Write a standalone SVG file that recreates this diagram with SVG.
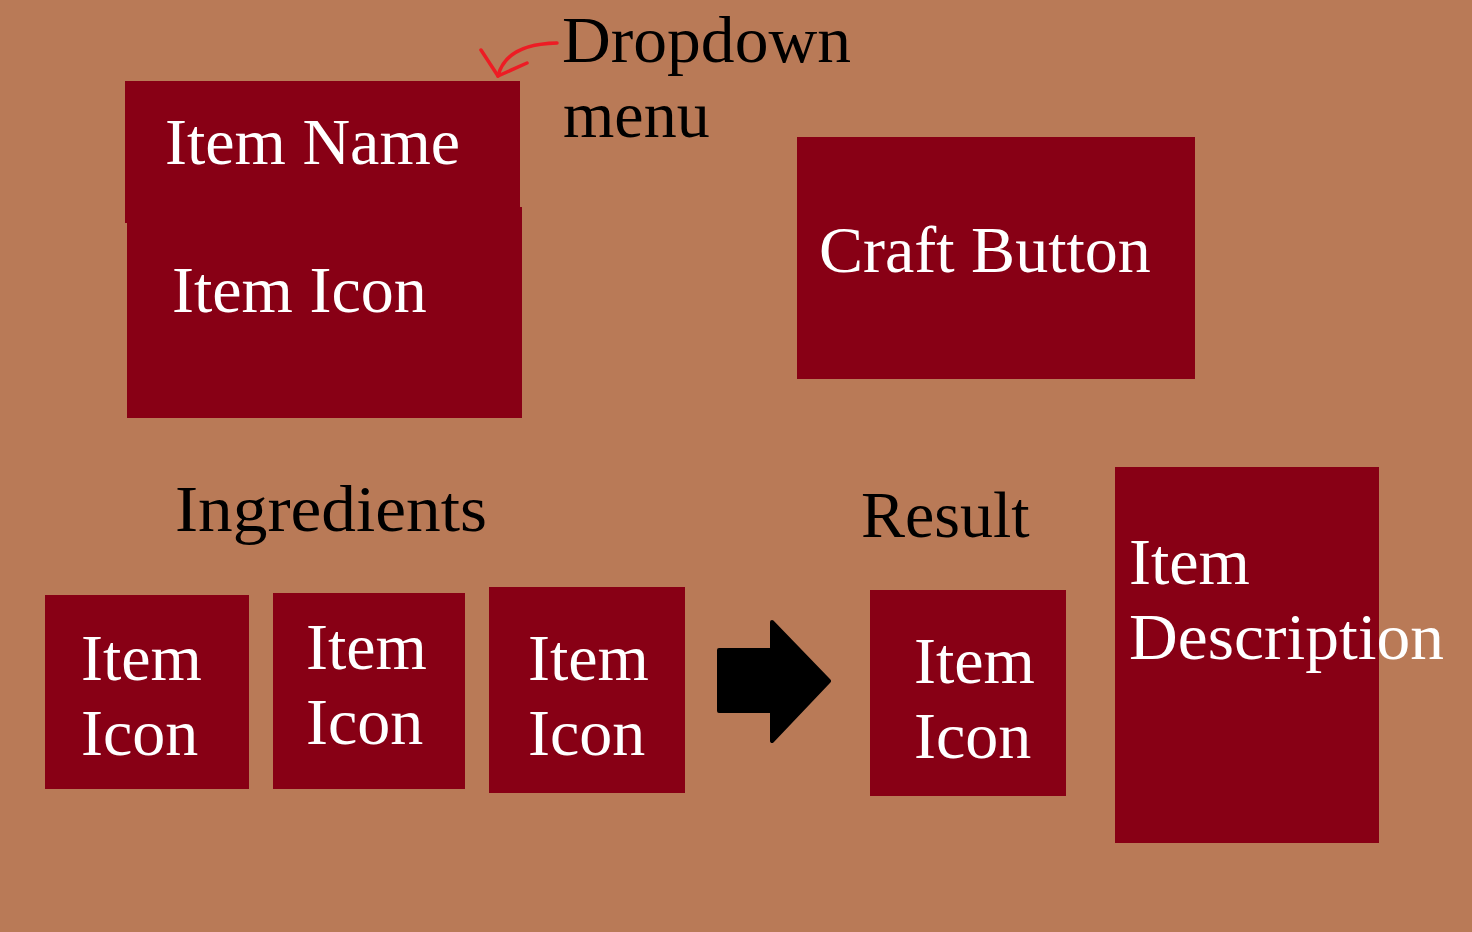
<svg xmlns="http://www.w3.org/2000/svg" width="1472" height="932" viewBox="0 0 1472 932">
<style>
.box{fill:#880015}
.t{font-family:"Liberation Serif","Times New Roman",serif;font-size:66px}
.w{fill:#ffffff}
.k{fill:#000000}
</style>
<rect x="0" y="0" width="1472" height="932" fill="#b97a57"/>
<g id="item-name">
<rect class="box" x="125" y="81" width="395" height="142"/>
<text class="t w" x="165" y="164">Item Name</text>
</g>
<g id="item-icon-main">
<rect class="box" x="127" y="207" width="395" height="211"/>
<text class="t w" x="172" y="312">Item Icon</text>
</g>
<g id="dropdown-label">
<text class="t k" x="562" y="62" textLength="289" lengthAdjust="spacingAndGlyphs">Dropdown</text>
<text class="t k" x="563" y="137">menu</text>
</g>
<g id="craft-button">
<rect class="box" x="797" y="137" width="398" height="242"/>
<text class="t w" x="819" y="272">Craft Button</text>
</g>
<g id="ingredients-label">
<text class="t k" x="175" y="531" textLength="312" lengthAdjust="spacingAndGlyphs">Ingredients</text>
</g>
<g id="ingredient-1">
<rect class="box" x="45" y="595" width="204" height="194"/>
<text class="t w" x="81" y="680">Item</text>
<text class="t w" x="81" y="755">Icon</text>
</g>
<g id="ingredient-2">
<rect class="box" x="273" y="593" width="192" height="196"/>
<text class="t w" x="306" y="669">Item</text>
<text class="t w" x="306" y="744">Icon</text>
</g>
<g id="ingredient-3">
<rect class="box" x="489" y="587" width="196" height="206"/>
<text class="t w" x="528" y="680">Item</text>
<text class="t w" x="528" y="755">Icon</text>
</g>
<g id="result-label">
<text class="t k" x="861" y="537">Result</text>
</g>
<g id="result-icon">
<rect class="box" x="870" y="590" width="196" height="206"/>
<text class="t w" x="914" y="683">Item</text>
<text class="t w" x="914" y="758">Icon</text>
</g>
<g id="item-description">
<rect class="box" x="1115" y="467" width="264" height="376"/>
<text class="t w" x="1129" y="584">Item</text>
<text class="t w" x="1129" y="659" textLength="315" lengthAdjust="spacingAndGlyphs">Description</text>
</g>
<g id="connectors">
<path d="M557,43 Q506,44 498,76" fill="none" stroke="#ed1c24" stroke-width="3.5" stroke-linecap="round"/>
<path d="M481,50 L498,76 L527,63" fill="none" stroke="#ed1c24" stroke-width="3.5" stroke-linecap="round" stroke-linejoin="round"/>
<polygon points="719,650 772,650 772,622 829,681 772,741 772,711 719,711" fill="#000000" stroke="#000000" stroke-width="4" stroke-linejoin="round"/>
</g>
</svg>
